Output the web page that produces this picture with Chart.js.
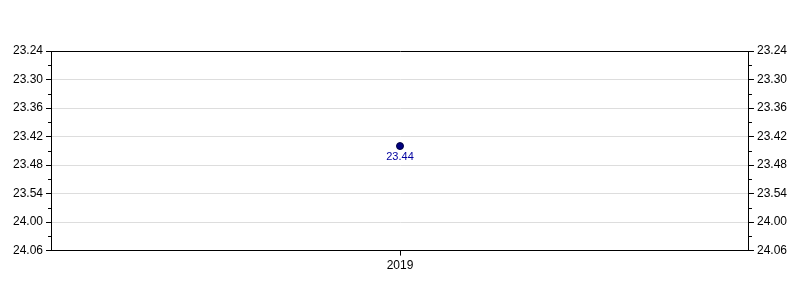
<!DOCTYPE html>
<html>
<head>
<meta charset="utf-8">
<script src="https://cdn.jsdelivr.net/npm/chart.js@4/dist/chart.umd.min.js"></script>
<style>
  html, body { margin: 0; padding: 0; background: #fff; }
  #wrap { width: 800px; height: 300px; }
</style>
</head>
<body>
<div id="wrap"><canvas id="timeChart"></canvas></div>
<script>
// Data: times in seconds, shown as mm.ss
var years = ['2019'];
var times = [1424];          // 23.44
var yMin = 1404;             // 23.24
var yMax = 1446;             // 24.06
var yStep = 6;

function fmt(sec) {
    var m = Math.floor(sec / 60);
    var s = sec - m * 60;
    return m + '.' + (s < 10 ? '0' : '') + s;
}

// minor ticks between the labelled ones, labels under the points
var extras = {
    id: 'extras',
    afterDraw: function (chart) {
        var c = chart.ctx;
        var area = chart.chartArea;
        c.save();
        c.strokeStyle = '#000';
        c.lineWidth = 1;
        ['y', 'y2'].forEach(function (id) {
            var sc = chart.scales[id];
            for (var v = yMin + yStep / 2; v < yMax; v += yStep) {
                var py = Math.round(sc.getPixelForValue(v)) + 0.5;
                c.beginPath();
                if (id === 'y') { c.moveTo(area.left - 3, py); c.lineTo(area.left, py); }
                else { c.moveTo(area.right, py); c.lineTo(area.right + 3, py); }
                c.stroke();
            }
        });
        var meta = chart.getDatasetMeta(0);
        c.fillStyle = '#0000A0';
        c.font = '11px "Liberation Sans", Arial, sans-serif';
        c.textAlign = 'center';
        c.textBaseline = 'middle';
        meta.data.forEach(function (pt, i) {
            c.fillText(fmt(times[i]), pt.x, pt.y + 11);
        });
        c.restore();
    }
};

var yTicks = {
    stepSize: yStep,
    color: '#000',
    padding: 3,
    font: { size: 12, family: '"Liberation Sans", Arial, sans-serif' },
    callback: function (v) { return fmt(v); }
};

new Chart(document.getElementById('timeChart'), {
    type: 'line',
    data: {
        labels: years,
        datasets: [{
            data: times,
            borderColor: '#000060',
            backgroundColor: '#000080',
            pointBackgroundColor: '#000080',
            pointBorderColor: '#000040',
            pointRadius: 3.5,
            pointBorderWidth: 1,
            showLine: false
        }]
    },
    options: {
        responsive: true,
        maintainAspectRatio: false,
        animation: false,
        layout: { padding: { left: 10, right: 10, top: 51, bottom: 24 } },
        plugins: { legend: { display: false }, tooltip: { enabled: false } },
        scales: {
            x: {
                offset: true,
                grid: { drawOnChartArea: false, tickLength: 5, tickColor: '#000' },
                border: { color: '#000' },
                ticks: { color: '#000', padding: 3, font: { size: 12, family: '"Liberation Sans", Arial, sans-serif' } }
            },
            y: {
                position: 'left',
                reverse: true,
                min: yMin,
                max: yMax,
                ticks: yTicks,
                grid: {
                    tickLength: 5,
                    tickColor: '#000',
                    color: function (ctx) {
                        return (ctx.tick && (ctx.tick.value === yMin || ctx.tick.value === yMax)) ? '#000' : '#dddddd';
                    }
                },
                border: { color: '#000' }
            },
            y2: {
                position: 'right',
                reverse: true,
                min: yMin,
                max: yMax,
                ticks: yTicks,
                grid: { drawOnChartArea: false, tickLength: 5, tickColor: '#000' },
                border: { color: '#000' }
            }
        }
    },
    plugins: [extras]
});
</script>
</body>
</html>
